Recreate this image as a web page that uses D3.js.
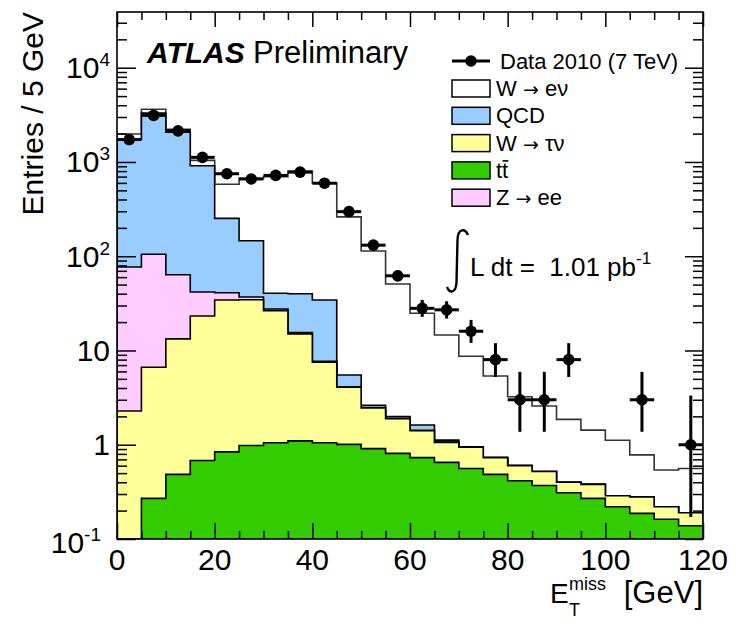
<!DOCTYPE html>
<html>
<head>
<meta charset="utf-8">
<script src="https://cdn.jsdelivr.net/npm/d3@7"></script>
<style>
  body { margin: 0; background: #fff; }
  text { font-family: "Liberation Sans", Arial, Helvetica, sans-serif; fill: #000; white-space: pre; }
  .arrow { font-family: "DejaVu Sans", sans-serif; }
</style>
</head>
<body>
<svg id="chart" width="740" height="627"></svg>
<script>
// bins of 5 GeV, low edges
const binLow = [0, 5, 10, 15, 20, 25, 30, 35, 40, 45, 50, 55, 60, 65, 70, 75, 80, 85, 90, 95, 100, 105, 110, 115];
const binWidth = 5;

// observed entries (Data 2010, 7 TeV); 0 = empty bin
const dataCounts = [1730, 3120, 2140, 1120, 750, 660, 720, 780, 595, 297, 131, 62, 28, 27, 16, 8, 3, 3, 8, 0, 0, 3, 0, 1];

// MC contributions per bin (stacked bottom -> top)
const ttbar  = [0, 0.27, 0.485, 0.68, 0.84, 0.98, 1.05, 1.10, 1.05, 1.01, 0.91, 0.81, 0.73, 0.65, 0.56, 0.485, 0.415, 0.37, 0.31, 0.27, 0.22, 0.187, 0.162, 0.138];
const wtaunu = [2.28, 6.36, 12.8, 22.5, 33.5, 33.5, 25.4, 13.9, 6.45, 3.06, 1.54, 1.08, 0.68, 0.41, 0.38, 0.245, 0.185, 0.15, 0.09, 0.11, 0.068, 0.093, 0.058, 0.052];
const zee    = [74.7, 98.4, 50.4, 18.5, 6.7, 2.5, 1.1, 0.5, 0.2, 0.05, 0.03, 0.02, 0.01, 0.01, 0.01, 0, 0, 0, 0, 0, 0, 0, 0, 0];
const qcd    = [1662, 3195, 2001, 870, 211, 109, 12.9, 24.5, 26.6, 1.38, 0.14, 0.08, 0.2, 0.05, 0, 0, 0, 0, 0, 0, 0, 0, 0, 0];
const wenu   = [241, 320, 155, 128, 328, 524, 658, 761, 566, 256, 111, 48.7, 23.2, 13.5, 7.75, 4.63, 2.63, 2.06, 1.46, 1.05, 0.83, 0.50, 0.32, 0.37];

const seriesKeys   = ['ttbar', 'wtaunu', 'zee', 'qcd', 'wenu'];
const seriesValues = {ttbar: ttbar, wtaunu: wtaunu, zee: zee, qcd: qcd, wenu: wenu};
const seriesColors = {ttbar: '#33cc00', wtaunu: '#ffff99', zee: '#ffccff', qcd: '#99ccff', wenu: '#ffffff'};

// legend: [before arrow, arrow?, after arrow]
const legendKeys   = ['wenu', 'qcd', 'wtaunu', 'ttbar', 'zee'];
const legendLabels = [['W ', '\u2192', ' e\u03bd'], ['QCD', '', ''], ['W ', '\u2192', ' \u03c4\u03bd'], ['tt', '', ''], ['Z ', '\u2192', ' ee']];

// tick labels
const xMajor = [0, 20, 40, 60, 80, 100, 120];
const xMinor = [5, 10, 15, 25, 30, 35, 45, 50, 55, 65, 70, 75, 85, 90, 95, 105, 110, 115];
const yMajor = [0.1, 1, 10, 100, 1000, 10000];
const yLabelBase = ['10', '1', '10', '10', '10', '10'];
const yLabelExp  = ['-1', '', '', '2', '3', '4'];
const yMinor = [0.2, 0.3, 0.4, 0.5, 0.6, 0.7, 0.8, 0.9,
                2, 3, 4, 5, 6, 7, 8, 9,
                20, 30, 40, 50, 60, 70, 80, 90,
                200, 300, 400, 500, 600, 700, 800, 900,
                2000, 3000, 4000, 5000, 6000, 7000, 8000, 9000,
                20000, 30000];

let margin = {top: 12, right: 37, bottom: 88, left: 117},
    width = 740 - margin.left - margin.right,
    height = 627 - margin.top - margin.bottom;
const yMin = 0.1, yMax = 3.9e4;

let x = d3.scaleLinear().domain([0, 120]).range([margin.left, margin.left + width]);
let y = d3.scaleLog().domain([yMin, yMax]).range([margin.top + height, margin.top]);

let svg = d3.select('#chart');

svg.append('defs').append('clipPath').attr('id', 'plotclip')
    .append('rect')
    .attr('x', margin.left).attr('y', margin.top)
    .attr('width', width).attr('height', height);

// stacked histograms
let rows = binLow.map((b, i) => {
    let r = {bin: b};
    seriesKeys.forEach(k => { r[k] = seriesValues[k][i]; });
    return r;
});
let stacked = d3.stack().keys(seriesKeys)(rows);

let stepLine = d3.line()
    .x(d => x(d[0]))
    .y(d => y(Math.max(d[1], yMin)));

function histPath(layer) {
    let pts = [[0, yMin]];
    layer.forEach((d, i) => {
        pts.push([binLow[i], d[1]]);
        pts.push([binLow[i] + binWidth, d[1]]);
    });
    pts.push([120, yMin]);
    return stepLine(pts) + 'Z';
}

let hist = svg.append('g').attr('clip-path', 'url(#plotclip)');
stacked.slice().reverse().forEach(layer => {
    hist.append('path')
        .attr('d', histPath(layer))
        .attr('fill', seriesColors[layer.key])
        .attr('stroke', layer.key === 'wenu' ? '#333' : '#000')
        .attr('stroke-width', 1.6)
        .attr('stroke-linejoin', 'miter');
});

// axes ticks (inside, mirrored)
function tickStyle(g) {
    g.select('.domain').remove();
    g.selectAll('line').attr('stroke', '#000').attr('stroke-width', 1.5);
}
let yBottom = y(yMin), yTop = y(yMax);
svg.append('g').attr('transform', 'translate(0,' + yBottom + ')')
    .call(d3.axisBottom(x).tickValues(xMinor).tickSize(-8).tickFormat('')).call(tickStyle);
svg.append('g').attr('transform', 'translate(0,' + yBottom + ')')
    .call(d3.axisBottom(x).tickValues(xMajor).tickSize(-16).tickFormat('')).call(tickStyle);
svg.append('g').attr('transform', 'translate(0,' + yTop + ')')
    .call(d3.axisTop(x).tickValues(xMinor).tickSize(-8).tickFormat('')).call(tickStyle);
svg.append('g').attr('transform', 'translate(0,' + yTop + ')')
    .call(d3.axisTop(x).tickValues(xMajor).tickSize(-15).tickFormat('')).call(tickStyle);

svg.append('g').attr('transform', 'translate(' + x(0) + ',0)')
    .call(d3.axisLeft(y).tickValues(yMinor).tickSize(-10).tickFormat('')).call(tickStyle);
svg.append('g').attr('transform', 'translate(' + x(0) + ',0)')
    .call(d3.axisLeft(y).tickValues(yMajor).tickSize(-19).tickFormat('')).call(tickStyle);
svg.append('g').attr('transform', 'translate(' + x(120) + ',0)')
    .call(d3.axisRight(y).tickValues(yMinor).tickSize(-10).tickFormat('')).call(tickStyle);
svg.append('g').attr('transform', 'translate(' + x(120) + ',0)')
    .call(d3.axisRight(y).tickValues(yMajor).tickSize(-18).tickFormat('')).call(tickStyle);

// frame
svg.append('rect')
    .attr('x', margin.left).attr('y', margin.top)
    .attr('width', width).attr('height', height)
    .attr('fill', 'none').attr('stroke', '#000').attr('stroke-width', 1.6);

// tick labels
svg.append('g').selectAll('text')
    .data(xMajor)
    .enter().append('text')
    .attr('x', d => x(d))
    .attr('y', yBottom + 31)
    .attr('text-anchor', 'middle')
    .style('font-size', '30px')
    .text(d => d);

let yLab = svg.append('g').selectAll('text')
    .data(yMajor)
    .enter().append('text')
    .attr('x', (d, i) => i === 0 ? 101 : 110)
    .attr('y', (d, i) => y(d) + (i === 0 ? 14 : 10.5))
    .attr('text-anchor', 'end')
    .style('font-size', '30px');
yLab.append('tspan').text((d, i) => yLabelBase[i]);
yLab.append('tspan')
    .attr('dy', -12)
    .style('font-size', '19px')
    .text((d, i) => yLabelExp[i]);

// axis titles
svg.append('text')
    .attr('transform', 'translate(43,' + margin.top + ') rotate(-90)')
    .attr('text-anchor', 'end')
    .style('font-size', '30px')
    .text('Entries / 5 GeV');

let xt = svg.append('g');
xt.append('text').attr('x', 550).attr('y', 603).style('font-size', '28px').text('E');
xt.append('text').attr('x', 569).attr('y', 590).style('font-size', '18px').text('miss');
xt.append('text').attr('x', 569).attr('y', 616).style('font-size', '18px').text('T');
xt.append('text').attr('x', 703).attr('y', 603).attr('text-anchor', 'end').style('font-size', '31px').text('[GeV]');

// ATLAS label
svg.append('text').attr('x', 147).attr('y', 63)
    .style('font-size', '30px').style('font-weight', 'bold').style('font-style', 'italic')
    .text('ATLAS');
svg.append('text').attr('x', 253).attr('y', 63)
    .style('font-size', '31px')
    .text('Preliminary');

// data points with Poisson (Gehrels) error bars
function poissonLow(n) { return n * Math.pow(1 - 1 / (9 * n) - 1 / (3 * Math.sqrt(n)), 3); }
function poissonHigh(n) { return n + Math.sqrt(n + 0.75) + 1; }

let pts = binLow.map((b, i) => ({lo: b, n: dataCounts[i]})).filter(d => d.n > 0);
let dataG = svg.append('g').attr('clip-path', 'url(#plotclip)');
dataG.selectAll('.xerr').data(pts).enter().append('line')
    .attr('x1', d => x(d.lo)).attr('x2', d => x(d.lo + binWidth))
    .attr('y1', d => y(d.n)).attr('y2', d => y(d.n))
    .attr('stroke', '#000').attr('stroke-width', 3);
dataG.selectAll('.yerr').data(pts).enter().append('line')
    .attr('x1', d => x(d.lo + binWidth / 2)).attr('x2', d => x(d.lo + binWidth / 2))
    .attr('y1', d => y(Math.max(poissonLow(d.n), yMin))).attr('y2', d => y(poissonHigh(d.n)))
    .attr('stroke', '#000').attr('stroke-width', 3);
dataG.selectAll('circle').data(pts).enter().append('circle')
    .attr('cx', d => x(d.lo + binWidth / 2)).attr('cy', d => y(d.n))
    .attr('r', 5.8).attr('fill', '#000');

// legend
let lg = svg.append('g');
lg.append('line').attr('x1', 452).attr('x2', 490).attr('y1', 61).attr('y2', 61)
    .attr('stroke', '#000').attr('stroke-width', 3);
lg.append('circle').attr('cx', 471).attr('cy', 61).attr('r', 5.8).attr('fill', '#000');
lg.append('text').attr('x', 500).attr('y', 69).style('font-size', '22px').text('Data 2010 (7 TeV)');

let items = lg.selectAll('.item').data(legendKeys).enter().append('g')
    .attr('transform', (d, i) => 'translate(0,' + (88.5 + 27.3 * i) + ')');
items.append('rect')
    .attr('x', 452).attr('y', -8.5).attr('width', 38).attr('height', 17)
    .attr('fill', d => seriesColors[d]).attr('stroke', '#000').attr('stroke-width', 1.5);
let itemText = items.append('text')
    .attr('x', 496).attr('y', 7.5)
    .style('font-size', '22px');
itemText.append('tspan').text((d, i) => legendLabels[i][0]);
itemText.append('tspan').attr('class', 'arrow').style('font-size', '19px').text((d, i) => legendLabels[i][1]);
itemText.append('tspan').text((d, i) => legendLabels[i][2]);
// bar over the second t of t-tbar
lg.append('line')
    .attr('x1', 502.6).attr('x2', 508.4)
    .attr('y1', 88.5 + 27.3 * 3 - 9.5).attr('y2', 88.5 + 27.3 * 3 - 9.5)
    .attr('stroke', '#000').attr('stroke-width', 1.6);

// luminosity
svg.append('path')
    .attr('d', 'M468,235 C465,228 458,228 457.5,240 L456.5,282 C456,293 450,294 447,287')
    .attr('fill', 'none').attr('stroke', '#000').attr('stroke-width', 2.4);
let lum = svg.append('text').attr('x', 470).attr('y', 276).style('font-size', '26px');
lum.append('tspan').text('L dt =  1.01 pb');
lum.append('tspan').attr('dy', -12).style('font-size', '17px').text('-1');
</script>
</body>
</html>
